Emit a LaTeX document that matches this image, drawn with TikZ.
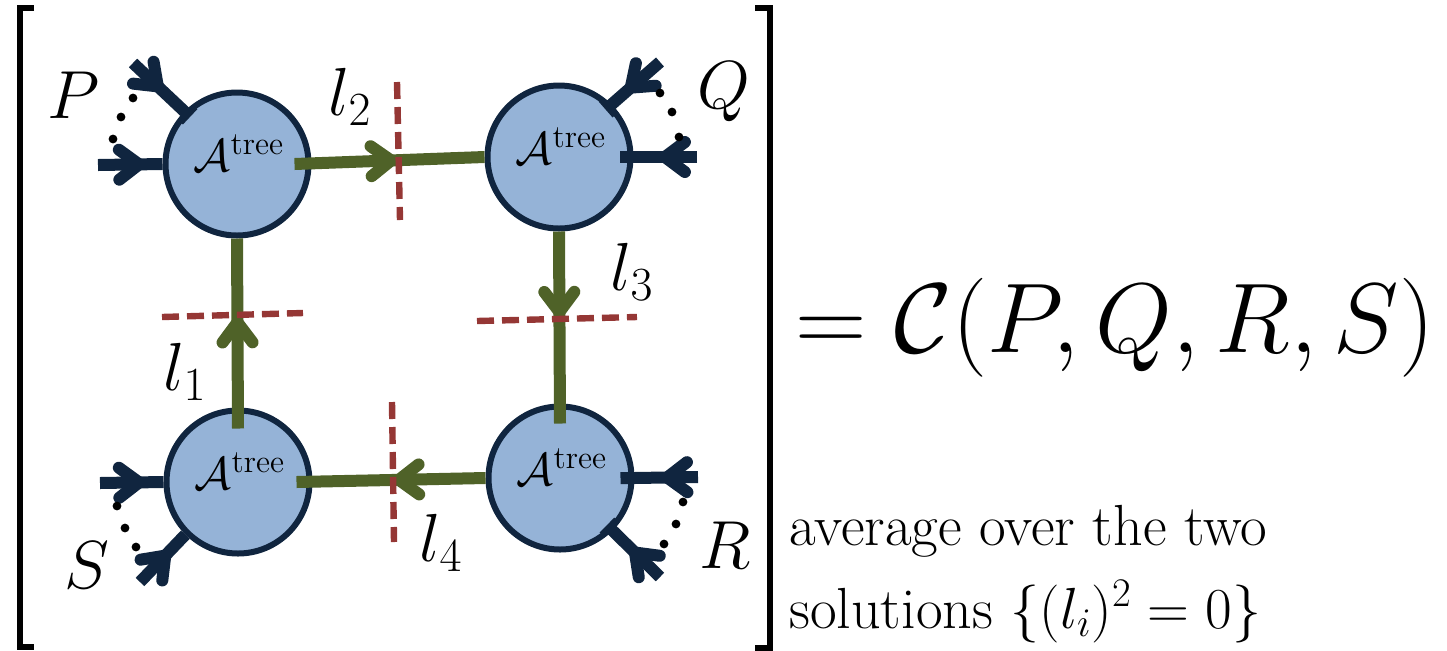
\documentclass[tikz,border=0pt]{standalone}
\usepackage{fix-cm}
\usepackage{amsmath}
\usetikzlibrary{arrows.meta, decorations.markings}

\definecolor{blobfill}{HTML}{95B3D7}
\definecolor{navy}{HTML}{10253F}
\definecolor{olive}{HTML}{4F6228}
\definecolor{cutred}{HTML}{953735}

\begin{document}
\begin{tikzpicture}[x=0.5pt, y=-0.5pt,
	blob/.style={circle, draw=navy, fill=blobfill, line width=3pt, minimum size=71.5pt, inner sep=0pt},
	amp/.style={inner sep=0pt, font=\fontsize{23}{27}\selectfont},
	prop/.style={draw=olive, line width=6pt},
	leg/.style={draw=navy, line width=6pt},
	chev/.style={postaction={decorate}, decoration={markings,
		mark=at position #1 with {\arrow{Straight Barb[length=10pt, width=15pt, round]}}}},
	stub/.style={-{Rectangle[length=3pt, width=10.5pt]}, shorten >=-4pt},
	cutline/.style={draw=cutred, line width=3.2pt, dash pattern=on 8.5pt off 4pt},
	lbl/.style={inner sep=0pt, font=\fontsize{34}{40}\selectfont},
	bracket/.style={draw=black, line width=3pt},
	eq/.style={inner sep=0pt, font=\fontsize{49.5}{58}\selectfont},
	note/.style={inner sep=0pt, font=\fontsize{29}{41}\selectfont}]

	% рамка рисунка
	\useasboundingbox (0,0) rectangle (1447,650);

	% квадратные скобки
	\draw[bracket] (34,8) -- (20,8) -- (20,647) -- (34,647);
	\draw[bracket] (755,8) -- (770,8) -- (770,648) -- (755,648);

	% древесные амплитуды
	\node[blob] (tl) at (237,164) {};
	\node[blob] (tr) at (559,157) {};
	\node[blob] (bl) at (238,482) {};
	\node[blob] (br) at (560,478) {};

	\node[amp] (atl) at (239,153) {$\mathcal{A}^{\mathrm{tree}}$};
	\node[amp] (atr) at (561,146) {$\mathcal{A}^{\mathrm{tree}}$};
	\node[amp] (abl) at (240,471) {$\mathcal{A}^{\mathrm{tree}}$};
	\node[amp] (abr) at (562,467) {$\mathcal{A}^{\mathrm{tree}}$};

	% внутренние линии
	\draw[prop, chev=0.59] ([yshift=-10.5pt]bl.north) -- (tl.south);
	\draw[prop, chev=0.54] ([xshift=-8.5pt]tl.east) -- (tr.west);
	\draw[prop, chev=0.45] (tr.south) -- ([yshift=-10pt]br.north);
	\draw[prop, chev=0.49] (br.west) -- ([xshift=-8pt]bl.east);

	% внешние ноги
	\coordinate (p1) at (98,165);
	\coordinate (p2) at (133,63);
	\coordinate (q1) at (697,157);
	\coordinate (q2) at (660,62);
	\coordinate (r1) at (698,477);
	\coordinate (r2) at (660,577);
	\coordinate (s1) at (100,483);
	\coordinate (s2) at (140,582);

	\draw[leg, chev=0.73] (p1) -- (tl.west);
	\draw[leg, chev=0.57, stub] (p2) -- (tl.135);
	\draw[leg, chev=0.6, shorten >=-7pt] (q1) -- (tr.east);
	\draw[leg, chev=0.7, stub] (q2) -- (tr.45);
	\draw[leg, chev=0.58, shorten >=-7pt] (r1) -- (br.east);
	\draw[leg, chev=0.62, stub] (r2) -- (br.-45);
	\draw[leg, chev=0.71] (s1) -- (bl.west);
	\draw[leg, chev=0.65] (s2) -- (bl.-135);

	% многоточия
	\foreach \x/\y in {133/98, 121/117, 113/139, 660/93, 672/112, 679/137,
		683/502, 676/524, 664/544, 117/506, 125/528, 136/547}
		\fill (\x,\y) circle (2.2pt);

	% разрезы
	\draw[cutline] (397,82) -- (400,220);
	\draw[cutline] (392,402) -- (394,542);
	\draw[cutline] (162,317) -- (303,313);
	\draw[cutline] (477,321) -- (637,317);

	% подписи
	\node[lbl] (lp) at (74,95) {$P$};
	\node[lbl] (lq) at (724,92) {$Q$};
	\node[lbl] (lr) at (725,545) {$R$};
	\node[lbl] (ls) at (87,565) {$S$};
	\node[lbl] (l1) at (185,372) {$l_1$};
	\node[lbl] (l2) at (350,97) {$l_2$};
	\node[lbl] (l3) at (632,272) {$l_3$};
	\node[lbl] (l4) at (441,543) {$l_4$};

	\node[eq, anchor=base west] (eqn) at (795,352) {$=\mathcal{C}(P,Q,R,S)$};
	\node[note, anchor=base west] (avg) at (789,545) {average over the two};
	\node[note, anchor=base west] (sol) at (789,628) {solutions $\{(l_i)^2=0\}$};
\end{tikzpicture}
\end{document}
